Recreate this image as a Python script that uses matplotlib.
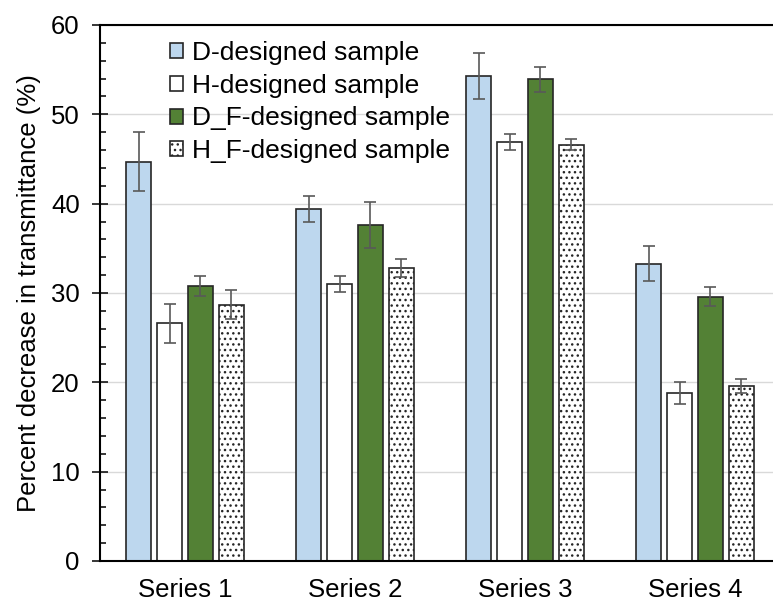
import matplotlib
matplotlib.use("Agg")
import matplotlib.pyplot as plt
import numpy as np
from matplotlib.ticker import MultipleLocator

plt.rcParams["font.family"] = ["Liberation Sans", "DejaVu Sans"]
plt.rcParams["hatch.linewidth"] = 1.0

categories = ["Series 1", "Series 2", "Series 3", "Series 4"]
sample_names = [
    "D-designed sample",
    "H-designed sample",
    "D_F-designed sample",
    "H_F-designed sample",
]
d_vals = [44.7, 39.4, 54.3, 33.3]
d_err = [3.3, 1.5, 2.6, 2.0]
h_vals = [26.6, 31.0, 46.9, 18.8]
h_err = [2.2, 0.9, 0.9, 1.2]
df_vals = [30.8, 37.6, 53.9, 29.6]
df_err = [1.1, 2.6, 1.4, 1.1]
hf_vals = [28.7, 32.8, 46.6, 19.6]
hf_err = [1.65, 1.0, 0.6, 0.8]

series = [d_vals, h_vals, df_vals, hf_vals]
errors = [d_err, h_err, df_err, hf_err]
faces = ["#bdd7ee", "white", "#538135", "white"]
hatches = [None, None, None, "..."]

fig = plt.figure(figsize=(7.73, 6.03), dpi=100)
ax = fig.add_axes([100 / 773, 1 - 561 / 603, 680 / 773, 536 / 603])

x = np.arange(len(categories))
step = 0.182
width = 0.143
for i, (vals, errs) in enumerate(zip(series, errors)):
    pos = x + (i - 1.5) * step
    ax.bar(pos, vals, width, color=faces[i], edgecolor="#262626", linewidth=1.2,
           hatch=hatches[i], label=sample_names[i], zorder=2)
    ax.errorbar(pos, vals, yerr=errs, fmt="none", ecolor="#595959",
                elinewidth=1.2, capsize=4.5, capthick=1.2, zorder=3)

ax.set_xlim(-0.5, 3.5)
ax.set_ylim(0, 60)
ax.yaxis.set_major_locator(MultipleLocator(10))
ax.yaxis.set_minor_locator(MultipleLocator(2))
ax.grid(axis="y", which="major", color="#d9d9d9", linewidth=1.0, zorder=0)
ax.set_axisbelow(True)

ax.set_xticks(x)
ax.set_xticklabels(categories)
ax.tick_params(axis="x", length=0, pad=12, labelsize=18.5)
ax.tick_params(axis="y", which="major", direction="inout", length=11,
               width=1.1, pad=9, labelsize=18.5)
ax.tick_params(axis="y", which="minor", direction="in", length=4.5, width=1.1)

for side in ["left", "top", "bottom"]:
    ax.spines[side].set_linewidth(1.5)
    ax.spines[side].set_color("black")
ax.spines["right"].set_visible(False)

ax.set_ylabel("Percent decrease in transmittance (%)", fontsize=18.5, labelpad=7)

ax.legend(loc="upper left", bbox_to_anchor=(170 / 773, 1 - 41 / 603),
          bbox_transform=fig.transFigure, frameon=False, fontsize=19,
          handlelength=0.5, handleheight=0.5, handletextpad=0.35,
          labelspacing=0.33, borderpad=0, borderaxespad=0)

fig.savefig("out.png", dpi=100)
